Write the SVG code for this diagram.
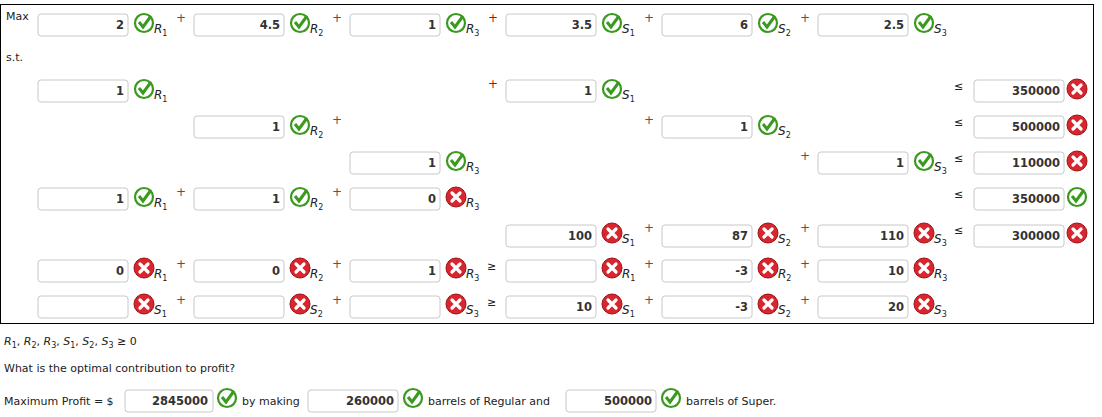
<svg xmlns="http://www.w3.org/2000/svg" width="1102" height="417" viewBox="0 0 1102 417">
<style>
text{font-family:"DejaVu Sans",Verdana,sans-serif;font-size:11px;fill:#222}
.v{font-weight:bold;font-size:11.5px;text-anchor:end;fill:#333}
.b{fill:#fff;stroke:#c8c8c8;stroke-width:1}
.s{font-style:italic;font-size:12px}
.u{font-style:normal;font-size:8px}
.p{font-size:12px;fill:#555}
.r{fill:#c00}
</style>
<defs>
<g id="ok"><circle cx="3" cy="0" r="9" fill="#fff" stroke="#3a9a1e" stroke-width="2.2"/><path d="M-2,-1 L2,4 L10,-7" fill="none" stroke="#3a9a1e" stroke-width="3"/></g>
<g id="no"><circle cx="3" cy="0" r="10" fill="#d8262e" stroke="#a01018" stroke-width="1"/><path d="M-1,-4 L7,4 M7,-4 L-1,4" stroke="#fff" stroke-width="3.2" stroke-linecap="round"/></g>
</defs>
<rect x="0.5" y="4.5" width="1093" height="319" fill="#fff" stroke="#000"/>
<text x="6" y="20">Max</text>
<text x="6" y="61">s.t.</text>
<g id="rows">
<rect class="b" x="38" y="14" width="90" height="22" rx="3"/><text class="v" x="124" y="29">2</text><use href="#ok" x="141" y="23"/><text class="s" x="154" y="33">R<tspan class="u" dy="3">1</tspan></text><text class="p" x="176" y="22">+</text>
<rect class="b" x="194" y="14" width="90" height="22" rx="3"/><text class="v" x="280" y="29">4.5</text><use href="#ok" x="297" y="23"/><text class="s" x="310" y="33">R<tspan class="u" dy="3">2</tspan></text><text class="p" x="332" y="22">+</text>
<rect class="b" x="350" y="14" width="90" height="22" rx="3"/><text class="v" x="436" y="29">1</text><use href="#ok" x="453" y="23"/><text class="s" x="466" y="33">R<tspan class="u" dy="3">3</tspan></text><text class="p r" x="488" y="22">+</text>
<rect class="b" x="506" y="14" width="90" height="22" rx="3"/><text class="v" x="592" y="29">3.5</text><use href="#ok" x="609" y="23"/><text class="s" x="622" y="33">S<tspan class="u" dy="3">1</tspan></text><text class="p" x="644" y="22">+</text>
<rect class="b" x="662" y="14" width="90" height="22" rx="3"/><text class="v" x="748" y="29">6</text><use href="#ok" x="765" y="23"/><text class="s" x="778" y="33">S<tspan class="u" dy="3">2</tspan></text><text class="p" x="800" y="22">+</text>
<rect class="b" x="818" y="14" width="90" height="22" rx="3"/><text class="v" x="904" y="29">2.5</text><use href="#ok" x="921" y="23"/><text class="s" x="934" y="33">S<tspan class="u" dy="3">3</tspan></text>
<rect class="b" x="38" y="80" width="90" height="22" rx="3"/><text class="v" x="124" y="95">1</text><use href="#ok" x="141" y="89"/><text class="s" x="154" y="99">R<tspan class="u" dy="3">1</tspan></text>
<text class="p r" x="488" y="88">+</text>
<rect class="b" x="506" y="80" width="90" height="22" rx="3"/><text class="v" x="592" y="95">1</text><use href="#ok" x="609" y="89"/><text class="s" x="622" y="99">S<tspan class="u" dy="3">1</tspan></text>
<text x="954" y="90">≤</text>
<rect class="b" x="974" y="80" width="90" height="22" rx="3"/><text class="v" x="1060" y="95">350000</text><use href="#no" x="1074" y="89"/>
<rect class="b" x="194" y="116" width="90" height="22" rx="3"/><text class="v" x="280" y="131">1</text><use href="#ok" x="297" y="125"/><text class="s" x="310" y="135">R<tspan class="u" dy="3">2</tspan></text><text class="p" x="332" y="124">+</text>
<text class="p" x="644" y="124">+</text>
<rect class="b" x="662" y="116" width="90" height="22" rx="3"/><text class="v" x="748" y="131">1</text><use href="#ok" x="765" y="125"/><text class="s" x="778" y="135">S<tspan class="u" dy="3">2</tspan></text>
<text x="954" y="126">≤</text>
<rect class="b" x="974" y="116" width="90" height="22" rx="3"/><text class="v" x="1060" y="131">500000</text><use href="#no" x="1074" y="125"/>
<rect class="b" x="350" y="152" width="90" height="22" rx="3"/><text class="v" x="436" y="167">1</text><use href="#ok" x="453" y="161"/><text class="s" x="466" y="171">R<tspan class="u" dy="3">3</tspan></text>
<text class="p" x="800" y="160">+</text>
<rect class="b" x="818" y="152" width="90" height="22" rx="3"/><text class="v" x="904" y="167">1</text><use href="#ok" x="921" y="161"/><text class="s" x="934" y="171">S<tspan class="u" dy="3">3</tspan></text>
<text x="954" y="162">≤</text>
<rect class="b" x="974" y="152" width="90" height="22" rx="3"/><text class="v" x="1060" y="167">110000</text><use href="#no" x="1074" y="161"/>
<rect class="b" x="38" y="188" width="90" height="22" rx="3"/><text class="v" x="124" y="203">1</text><use href="#ok" x="141" y="197"/><text class="s" x="154" y="207">R<tspan class="u" dy="3">1</tspan></text><text class="p" x="176" y="196">+</text>
<rect class="b" x="194" y="188" width="90" height="22" rx="3"/><text class="v" x="280" y="203">1</text><use href="#ok" x="297" y="197"/><text class="s" x="310" y="207">R<tspan class="u" dy="3">2</tspan></text><text class="p" x="332" y="196">+</text>
<rect class="b" x="350" y="188" width="90" height="22" rx="3"/><text class="v" x="436" y="203">0</text><use href="#no" x="453" y="197"/><text class="s" x="466" y="207">R<tspan class="u" dy="3">3</tspan></text>
<text x="954" y="198">≤</text>
<rect class="b" x="974" y="188" width="90" height="22" rx="3"/><text class="v" x="1060" y="203">350000</text><use href="#ok" x="1074" y="197"/>
<rect class="b" x="506" y="225" width="90" height="22" rx="3"/><text class="v" x="592" y="240">100</text><use href="#no" x="609" y="233"/><text class="s" x="622" y="243">S<tspan class="u" dy="3">1</tspan></text><text class="p" x="644" y="232">+</text>
<rect class="b" x="662" y="225" width="90" height="22" rx="3"/><text class="v" x="748" y="240">87</text><use href="#no" x="765" y="233"/><text class="s" x="778" y="243">S<tspan class="u" dy="3">2</tspan></text><text class="p" x="800" y="232">+</text>
<rect class="b" x="818" y="225" width="90" height="22" rx="3"/><text class="v" x="904" y="240">110</text><use href="#no" x="921" y="233"/><text class="s" x="934" y="243">S<tspan class="u" dy="3">3</tspan></text>
<text x="954" y="234">≤</text>
<rect class="b" x="974" y="225" width="90" height="22" rx="3"/><text class="v" x="1060" y="240">300000</text><use href="#no" x="1074" y="233"/>
<rect class="b" x="38" y="260" width="90" height="22" rx="3"/><text class="v" x="124" y="275">0</text><use href="#no" x="141" y="268"/><text class="s" x="154" y="278">R<tspan class="u" dy="3">1</tspan></text><text class="p" x="176" y="268">+</text>
<rect class="b" x="194" y="260" width="90" height="22" rx="3"/><text class="v" x="280" y="275">0</text><use href="#no" x="297" y="268"/><text class="s" x="310" y="278">R<tspan class="u" dy="3">2</tspan></text><text class="p" x="332" y="268">+</text>
<rect class="b" x="350" y="260" width="90" height="22" rx="3"/><text class="v" x="436" y="275">1</text><use href="#no" x="453" y="268"/><text class="s" x="466" y="278">R<tspan class="u" dy="3">3</tspan></text><text x="487" y="270">≥</text>
<rect class="b" x="506" y="260" width="90" height="22" rx="3"/><use href="#no" x="609" y="268"/><text class="s" x="622" y="278">R<tspan class="u" dy="3">1</tspan></text><text class="p" x="644" y="268">+</text>
<rect class="b" x="662" y="260" width="90" height="22" rx="3"/><text class="v" x="748" y="275">-3</text><use href="#no" x="765" y="268"/><text class="s" x="778" y="278">R<tspan class="u" dy="3">2</tspan></text><text class="p" x="800" y="268">+</text>
<rect class="b" x="818" y="260" width="90" height="22" rx="3"/><text class="v" x="904" y="275">10</text><use href="#no" x="921" y="268"/><text class="s" x="934" y="278">R<tspan class="u" dy="3">3</tspan></text>
<rect class="b" x="38" y="296" width="90" height="22" rx="3"/><use href="#no" x="141" y="304"/><text class="s" x="154" y="314">S<tspan class="u" dy="3">1</tspan></text><text class="p" x="176" y="304">+</text>
<rect class="b" x="194" y="296" width="90" height="22" rx="3"/><use href="#no" x="297" y="304"/><text class="s" x="310" y="314">S<tspan class="u" dy="3">2</tspan></text><text class="p" x="332" y="304">+</text>
<rect class="b" x="350" y="296" width="90" height="22" rx="3"/><use href="#no" x="453" y="304"/><text class="s" x="466" y="314">S<tspan class="u" dy="3">3</tspan></text><text x="487" y="306">≥</text>
<rect class="b" x="506" y="296" width="90" height="22" rx="3"/><text class="v" x="592" y="311">10</text><use href="#no" x="609" y="304"/><text class="s" x="622" y="314">S<tspan class="u" dy="3">1</tspan></text><text class="p" x="644" y="304">+</text>
<rect class="b" x="662" y="296" width="90" height="22" rx="3"/><text class="v" x="748" y="311">-3</text><use href="#no" x="765" y="304"/><text class="s" x="778" y="314">S<tspan class="u" dy="3">2</tspan></text><text class="p" x="800" y="304">+</text>
<rect class="b" x="818" y="296" width="90" height="22" rx="3"/><text class="v" x="904" y="311">20</text><use href="#no" x="921" y="304"/><text class="s" x="934" y="314">S<tspan class="u" dy="3">3</tspan></text>
</g>
<text x="4" y="345"><tspan font-style="italic">R</tspan><tspan font-size="8" dy="3">1</tspan><tspan dy="-3">, </tspan><tspan font-style="italic">R</tspan><tspan font-size="8" dy="3">2</tspan><tspan dy="-3">, </tspan><tspan font-style="italic">R</tspan><tspan font-size="8" dy="3">3</tspan><tspan dy="-3">, </tspan><tspan font-style="italic">S</tspan><tspan font-size="8" dy="3">1</tspan><tspan dy="-3">, </tspan><tspan font-style="italic">S</tspan><tspan font-size="8" dy="3">2</tspan><tspan dy="-3">, </tspan><tspan font-style="italic">S</tspan><tspan font-size="8" dy="3">3</tspan><tspan dy="-3"> ≥ 0</tspan></text>
<text x="4" y="372">What is the optimal contribution to profit?</text>
<g id="answer">
<text x="4" y="405">Maximum Profit = $</text>
<rect class="b" x="125" y="390" width="88" height="22" rx="3"/><text class="v" x="208" y="405">2845000</text><use href="#ok" x="224" y="398"/>
<text x="242" y="405">by making</text>
<rect class="b" x="308" y="390" width="90" height="22" rx="3"/><text class="v" x="394" y="405">260000</text><use href="#ok" x="410" y="398"/>
<text x="428" y="405">barrels of Regular and</text>
<rect class="b" x="566" y="390" width="90" height="22" rx="3"/><text class="v" x="652" y="405">500000</text><use href="#ok" x="668" y="398"/>
<text x="686" y="405">barrels of Super.</text>
</g>
</svg>
